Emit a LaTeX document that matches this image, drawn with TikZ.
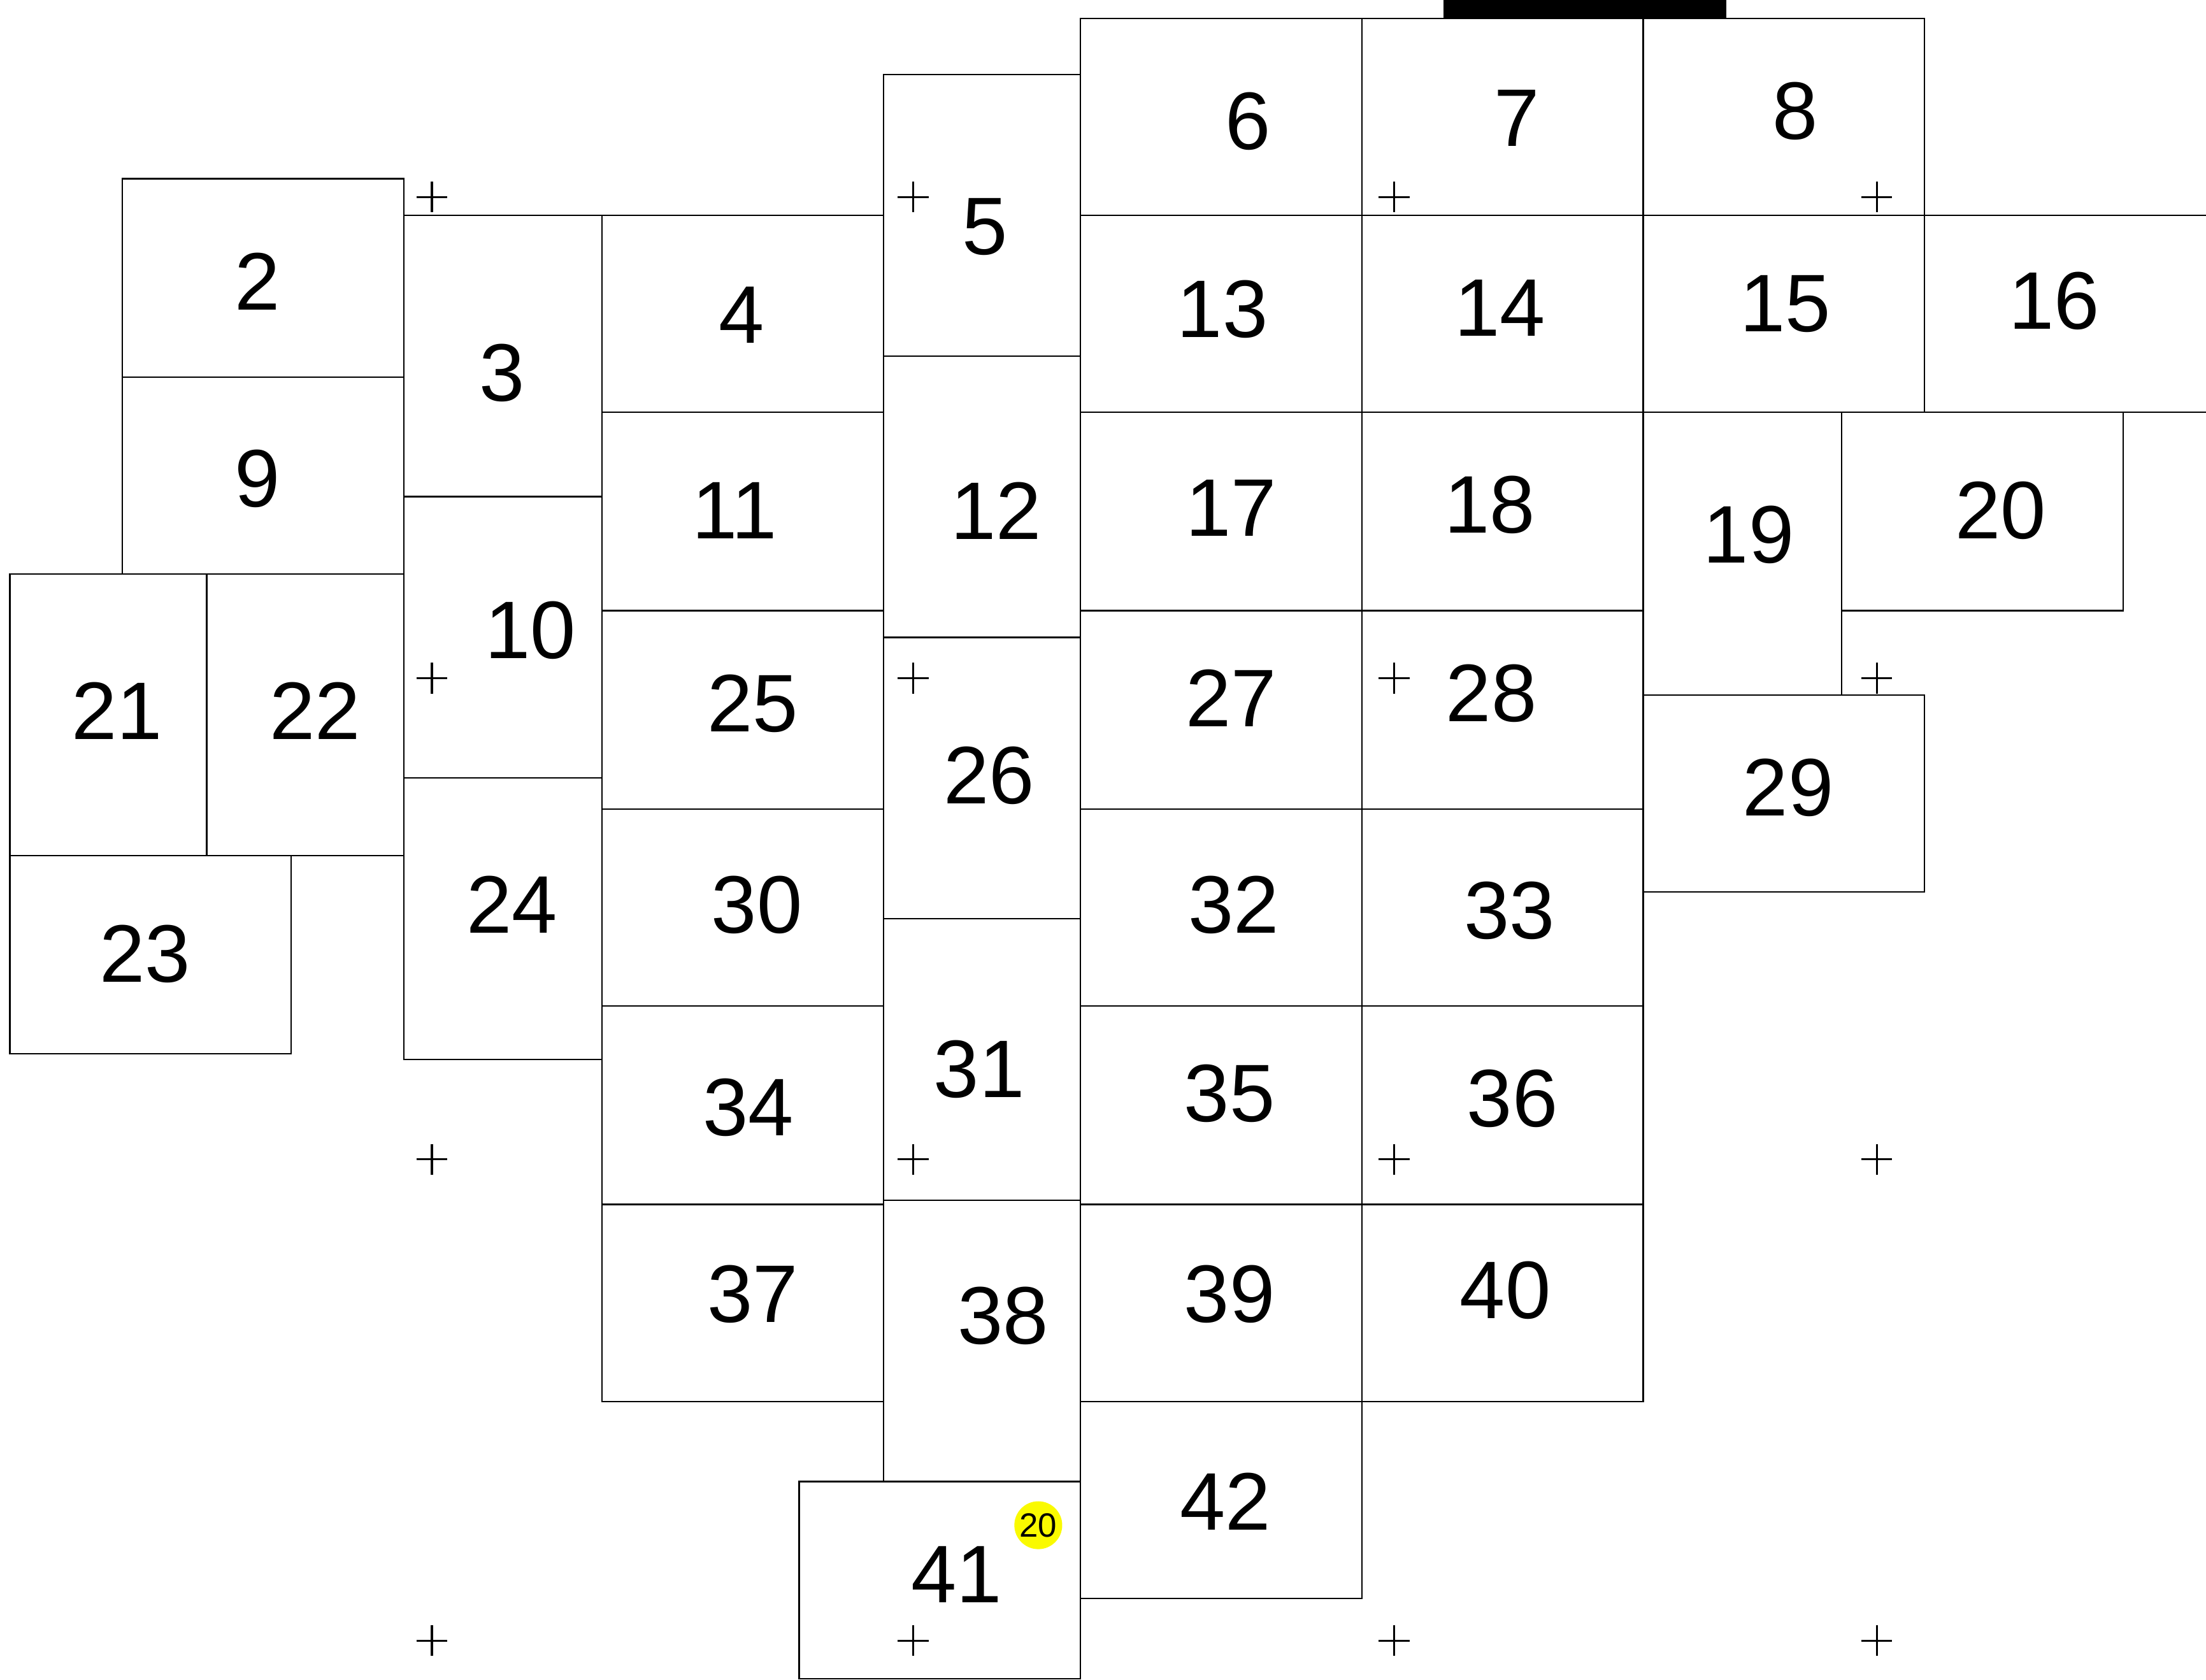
\documentclass[tikz,border=0pt]{standalone}
\usepackage{fontspec}
\setmainfont{Liberation Sans}
\usepackage{xcolor}
\definecolor{badgeyellow}{RGB}{250,250,0}

\begin{document}
\begin{tikzpicture}[
    x=0.01cm, y=-0.01cm,
    cell/.style={draw=black,line width=0.3pt},
    num/.style={inner sep=0pt,font=\fontsize{16.5}{18}\selectfont},
    badge/.style={circle,fill=badgeyellow,minimum size=0.34cm,inner sep=0pt,font=\fontsize{6.8}{7}\selectfont},
    plusmark/.pic={\draw[line width=0.4pt] (-11,0) -- (11,0) (0,-11) -- (0,11);}
]
\useasboundingbox (0,0) rectangle (1568,1194);
\clip (0,0) rectangle (1568,1194);
\fill[black] (1026,0) rectangle (1227,13);
% left block
\draw[cell] (87,127) rectangle (287,268);
\draw[cell] (87,268) rectangle (287,408);
\draw[cell] (7,408) rectangle (147,608);
\draw[cell] (147,408) rectangle (287,608);
\draw[cell] (7,608) rectangle (207,749);
\draw[cell] (287,153) rectangle (428,353);
\draw[cell] (287,353) rectangle (428,553);
\draw[cell] (287,553) rectangle (428,753);
\draw[cell] (428,153) rectangle (628,293);
\draw[cell] (428,293) rectangle (628,434);
\draw[cell] (428,434) rectangle (628,575);
\draw[cell] (428,575) rectangle (628,715);
\draw[cell] (428,715) rectangle (628,856);
\draw[cell] (428,856) rectangle (628,996);
\draw[cell] (628,53) rectangle (768,253);
\draw[cell] (628,253) rectangle (768,453);
\draw[cell] (628,453) rectangle (768,653);
\draw[cell] (628,653) rectangle (768,853);
\draw[cell] (628,853) rectangle (768,1053);
\draw[cell] (568,1053) rectangle (768,1193);
% right block
\draw[cell] (768,13) rectangle (968,153);
\draw[cell] (968,13) rectangle (1168,153);
\draw[cell] (1168,13) rectangle (1368,153);
\draw[cell] (768,153) rectangle (968,293);
\draw[cell] (968,153) rectangle (1168,293);
\draw[cell] (1168,153) rectangle (1368,293);
\draw[cell] (1368,153) rectangle (1590,293);
\draw[cell] (768,293) rectangle (968,434);
\draw[cell] (968,293) rectangle (1168,434);
\draw[cell] (1168,293) rectangle (1309,494);
\draw[cell] (1309,293) rectangle (1509,434);
\draw[cell] (768,434) rectangle (968,575);
\draw[cell] (968,434) rectangle (1168,575);
\draw[cell] (1168,494) rectangle (1368,634);
\draw[cell] (768,575) rectangle (968,715);
\draw[cell] (968,575) rectangle (1168,715);
\draw[cell] (768,715) rectangle (968,856);
\draw[cell] (968,715) rectangle (1168,856);
\draw[cell] (768,856) rectangle (968,996);
\draw[cell] (968,856) rectangle (1168,996);
\draw[cell] (768,996) rectangle (968,1136);
% numbers
\node[num] (n2) at (183,200) {2};
\node[num] (n3) at (357,265) {3};
\node[num] (n4) at (527,224) {4};
\node[num] (n5) at (700,161) {5};
\node[num] (n6) at (887,86) {6};
\node[num] (n7) at (1078,84) {7};
\node[num] (n8) at (1276,79) {8};
\node[num] (n9) at (183,340) {9};
\node[num] (n10) at (377,448) {10};
\node[num] (n11) at (522,363) {11};
\node[num] (n12) at (708,363) {12};
\node[num] (n13) at (869,220) {13};
\node[num] (n14) at (1066,219) {14};
\node[num] (n15) at (1269,216) {15};
\node[num] (n16) at (1460,214) {16};
\node[num] (n17) at (875,361) {17};
\node[num] (n18) at (1059,359) {18};
\node[num] (n19) at (1243,380) {19};
\node[num] (n20) at (1422,363) {20};
\node[num] (n21) at (83,505) {21};
\node[num] (n22) at (224,505) {22};
\node[num] (n23) at (103,678) {23};
\node[num] (n24) at (364,643) {24};
\node[num] (n25) at (535,500) {25};
\node[num] (n26) at (703,551) {26};
\node[num] (n27) at (875,496) {27};
\node[num] (n28) at (1060,493) {28};
\node[num] (n29) at (1271,560) {29};
\node[num] (n30) at (538,643) {30};
\node[num] (n31) at (696,760) {31};
\node[num] (n32) at (877,643) {32};
\node[num] (n33) at (1073,647) {33};
\node[num] (n34) at (532,787) {34};
\node[num] (n35) at (874,777) {35};
\node[num] (n36) at (1075,781) {36};
\node[num] (n37) at (535,920) {37};
\node[num] (n38) at (713,935) {38};
\node[num] (n39) at (874,920) {39};
\node[num] (n40) at (1070,917) {40};
\node[num] (n41) at (680,1119) {41};
\node[num] (n42) at (871,1067) {42};
\node[badge] (b41) at (738,1084) {20};
% plus marks
\pic at (307,140) {plusmark};
\pic at (649,140) {plusmark};
\pic at (991,140) {plusmark};
\pic at (1334,140) {plusmark};
\pic at (307,482) {plusmark};
\pic at (649,482) {plusmark};
\pic at (991,482) {plusmark};
\pic at (1334,482) {plusmark};
\pic at (307,824) {plusmark};
\pic at (649,824) {plusmark};
\pic at (991,824) {plusmark};
\pic at (1334,824) {plusmark};
\pic at (307,1166) {plusmark};
\pic at (649,1166) {plusmark};
\pic at (991,1166) {plusmark};
\pic at (1334,1166) {plusmark};
\end{tikzpicture}
\end{document}
